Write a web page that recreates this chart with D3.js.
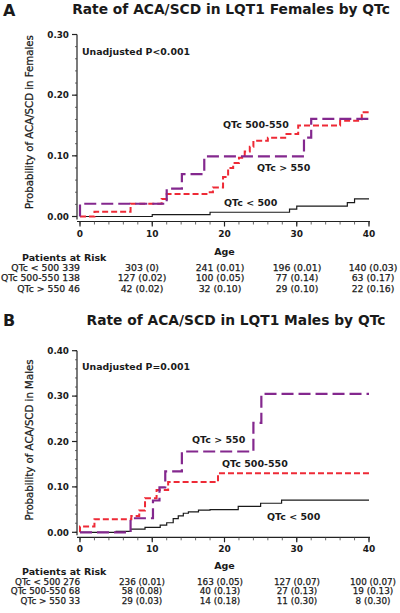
<!DOCTYPE html>
<html><head><meta charset="utf-8">
<script src="https://cdn.jsdelivr.net/npm/d3@7"></script>
<style>
body{margin:0;background:#fff;}
text{font-family:"DejaVu Sans",sans-serif;fill:#1a1a1a;}
</style></head>
<body><svg id="c" width="400" height="613"></svg>
<script>
// ---- data ----
const riskAges = [0, 10, 20, 30, 40];
const groups = ["QTc < 500", "QTc 500-550", "QTc > 550"];

// Panel A (females) KM curves: [age, probability]
const femLt500 = [[0,0],[10,0.003],[18,0.007],[29,0.012],[30,0.017],[37,0.023],[38,0.029],[40,0.029]];
const fem500_550 = [[0,0],[2,0.008],[7,0.021],[11.3,0.029],[12,0.037],[17.5,0.040],[18.4,0.048],[19.8,0.065],[20.5,0.080],[21.2,0.088],[22,0.097],[22.8,0.107],[23.5,0.115],[24,0.125],[26,0.130],[28.4,0.136],[30.2,0.150],[36,0.158],[39,0.172],[40,0.172]];
const femGt550 = [[0,0],[0,0.021],[12,0.046],[14.1,0.070],[17.2,0.099],[31,0.130],[32,0.161],[40,0.161]];

// Panel B (males)
const maleLt500 = [[0,0],[5,0.002],[7,0.007],[9,0.011],[11.1,0.016],[12,0.021],[12.9,0.030],[13.6,0.036],[14.3,0.042],[15,0.045],[16.4,0.049],[18,0.050],[21.9,0.057],[25,0.064],[27.9,0.071],[40,0.071]];
const male500_550 = [[0,0],[0,0.013],[2,0.029],[7.1,0.036],[8.2,0.048],[9,0.075],[10.6,0.093],[12.2,0.111],[19.1,0.130],[40,0.130]];
const maleGt550 = [[0,0],[7,0.031],[10.1,0.070],[11,0.099],[11.8,0.134],[14.1,0.178],[24,0.241],[25.1,0.305],[40,0.305]];

// Patients at risk tables: counts and cumulative probabilities at riskAges
const femRiskN = [[339,303,241,196,140],[138,127,100,77,63],[46,42,32,29,22]];
const femRiskP = [[null,"0","0.01","0.01","0.03"],[null,"0.02","0.05","0.14","0.17"],[null,"0.02","0.10","0.10","0.16"]];
const maleRiskN = [[276,236,163,127,100],[68,58,40,27,19],[33,29,14,11,8]];
const maleRiskP = [[null,"0.01","0.05","0.07","0.07"],[null,"0.08","0.13","0.13","0.13"],[null,"0.03","0.18","0.30","0.30"]];

const xTicks = [0,10,20,30,40];
const yTicksA = [0,0.10,0.20,0.30];
const yTicksB = [0,0.10,0.20,0.30,0.40];

// ---- drawing ----
const svg = d3.select("#c");
const colBlack = "#1a1a1a", colRed = "#ee2a36", colPurple = "#84288e";

function panel(opt){
  const g = svg.append("g");
  const x = d3.scaleLinear().domain([0,40]).range([80,369]);
  const y = d3.scaleLinear().domain([0,opt.yMax]).range([opt.y0, opt.yTop]);
  // panel letter & title
  g.append("text").attr("x",3).attr("y",opt.letterY).attr("font-family","Liberation Sans, Arial, sans-serif")
    .attr("font-weight","bold").attr("font-size",16).text(opt.letter);
  g.append("text").attr("x",opt.titleX).attr("y",opt.titleY).attr("text-anchor","middle")
    .attr("font-family","Liberation Sans, Arial, sans-serif").attr("font-weight","bold").attr("font-size",13.8).text(opt.title);
  // y axis
  const yAxisX = 77;
  g.append("line").attr("x1",yAxisX).attr("x2",yAxisX).attr("y1",y(opt.yMax)).attr("y2",y(0)+3).attr("stroke","#222").attr("stroke-width",1.2);
  const minorY = d3.range(0, opt.yMax+1e-9, 0.02);
  g.selectAll(null).data(minorY).enter().append("line").attr("x1",yAxisX-2).attr("x2",yAxisX).attr("y1",d=>y(d)).attr("y2",d=>y(d)).attr("stroke","#444").attr("stroke-width",0.8);
  g.selectAll(null).data(opt.yTicks).enter().append("line").attr("x1",yAxisX-5).attr("x2",yAxisX).attr("y1",d=>y(d)).attr("y2",d=>y(d)).attr("stroke","#222").attr("stroke-width",1.2);
  g.selectAll(null).data(opt.yTicks).enter().append("text").attr("x",yAxisX-8).attr("y",d=>y(d)+3.3).attr("text-anchor","end")
    .attr("font-weight","bold").attr("font-size",8.8).text(d=>d3.format(".2f")(d));
  // y label
  g.append("text").attr("transform",`translate(33,${opt.yLabelY}) rotate(-90)`).attr("text-anchor","middle")
    .attr("font-size",10.2).attr("stroke","#1a1a1a").attr("stroke-width",0.25).text(opt.yLabel);
  // x axis
  const xAxisY = opt.y0 + 5;
  g.append("line").attr("x1",77).attr("x2",370).attr("y1",xAxisY).attr("y2",xAxisY).attr("stroke","#222").attr("stroke-width",1.2);
  const minorX = d3.range(0,41,2);
  g.selectAll(null).data(minorX).enter().append("line").attr("x1",d=>x(d)).attr("x2",d=>x(d)).attr("y1",xAxisY).attr("y2",xAxisY+3).attr("stroke","#444").attr("stroke-width",0.8);
  g.selectAll(null).data(xTicks).enter().append("line").attr("x1",d=>x(d)).attr("x2",d=>x(d)).attr("y1",xAxisY).attr("y2",xAxisY+5).attr("stroke","#222").attr("stroke-width",1.2);
  g.selectAll(null).data(xTicks).enter().append("text").attr("x",d=>x(d)).attr("y",xAxisY+15).attr("text-anchor","middle")
    .attr("font-weight","bold").attr("font-size",9).text(d=>d);
  g.append("text").attr("x",x(20)).attr("y",opt.ageY).attr("text-anchor","middle").attr("font-weight","bold").attr("font-size",9.5).text("Age");
  // p-value
  g.append("text").attr("x",82).attr("y",opt.pY).attr("font-weight","bold").attr("font-size",9.4).text(opt.pText);
  // curves
  const line = d3.line().x(d=>x(d[0])).y(d=>y(d[1])).curve(d3.curveStepAfter);
  const series = [
    {d:opt.s[0], c:colBlack, w:1.2, dash:null},
    {d:opt.s[1], c:colRed, w:2, dash:"6,3"},
    {d:opt.s[2], c:colPurple, w:2.2, dash:"12,5"}
  ];
  series.forEach(s=>{
    g.append("path").datum(s.d).attr("d",line).attr("fill","none").attr("stroke",s.c).attr("stroke-width",s.w)
      .attr("stroke-dasharray",s.dash);
  });
  // curve labels
  opt.labels.forEach(l=>{
    g.append("text").attr("x",l[1]).attr("y",l[2]).attr("font-weight","bold").attr("font-size",9.5).text(l[0]);
  });
  // risk table
  g.append("text").attr("x",22).attr("y",opt.tableY).attr("font-weight","bold").attr("font-size",9.5).text("Patients at Risk");
  const colX = [null,142,220,297,373];
  groups.forEach((grp,i)=>{
    const ry = opt.row0 + opt.rowH*i;
    g.append("text").attr("x",80).attr("y",ry).attr("text-anchor","end").attr("font-size",opt.rowFont)
      .attr("stroke","#1a1a1a").attr("stroke-width",0.25)
      .text(grp + " " + opt.riskN[i][0]);
    for(let j=1;j<riskAges.length;j++){
      g.append("text").attr("x",colX[j]).attr("y",ry).attr("text-anchor","middle").attr("font-size",opt.rowFont)
        .attr("stroke","#1a1a1a").attr("stroke-width",0.25)
        .text(opt.riskN[i][j] + " (" + opt.riskP[i][j] + ")");
    }
  });
}

panel({letter:"A", letterY:16, title:"Rate of ACA/SCD in LQT1 Females by QTc", titleX:231, titleY:14,
  yMax:0.30, y0:216.5, yTop:34.5, yTicks:yTicksA, yLabel:"Probability of ACA/SCD in Females", yLabelY:122,
  pText:"Unadjusted P<0.001", pY:54.5, ageY:255,
  s:[femLt500, fem500_550, femGt550],
  labels:[["QTc 500-550",223,127.5],["QTc > 550",257,170.5],["QTc < 500",224,205.5]],
  tableY:261, row0:270.5, rowH:10.5, rowFont:9.3, riskN:femRiskN, riskP:femRiskP});

panel({letter:"B", letterY:326, title:"Rate of ACA/SCD in LQT1 Males by QTc", titleX:236, titleY:325,
  yMax:0.40, y0:532.3, yTop:350.7, yTicks:yTicksB, yLabel:"Probability of ACA/SCD in Males", yLabelY:440,
  pText:"Unadjusted P=0.001", pY:370, ageY:569,
  s:[maleLt500, male500_550, maleGt550],
  labels:[["QTc > 550",192,443],["QTc 500-550",222,467],["QTc < 500",267,519.5]],
  tableY:575, row0:585, rowH:9.3, rowFont:8.8, riskN:maleRiskN, riskP:maleRiskP});
</script></body></html>
